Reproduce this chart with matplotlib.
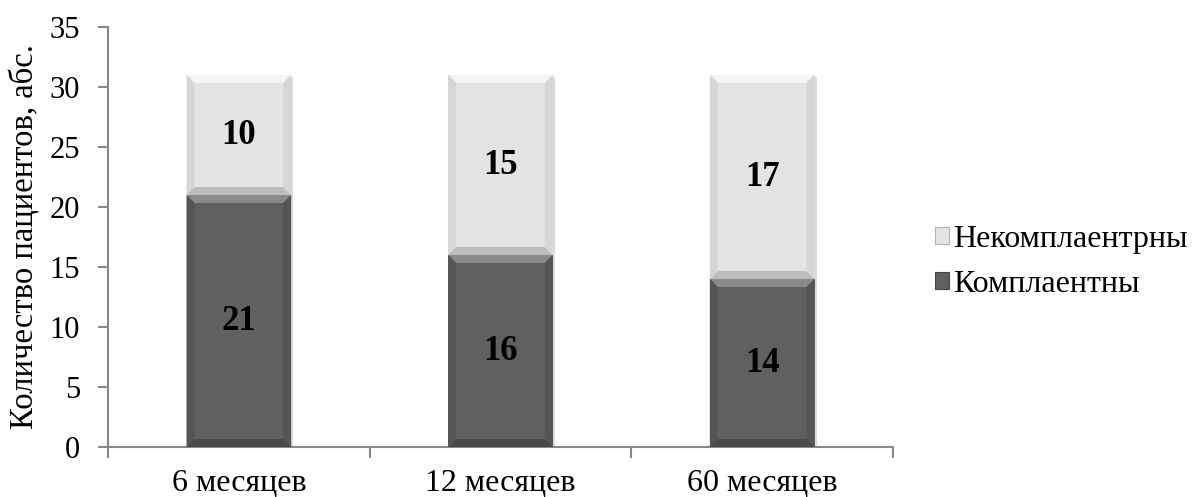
import matplotlib
matplotlib.use("Agg")
import matplotlib.pyplot as plt
from matplotlib.patches import Polygon, Rectangle

categories = ["6 месяцев", "12 месяцев", "60 месяцев"]
compliant = [21, 16, 14]
noncompliant = [10, 15, 17]
series_names = ["Комплаентны", "Некомплаентрны"]
yticks = [0, 5, 10, 15, 20, 25, 30, 35]

plt.rcParams['font.family'] = ['Liberation Serif', 'DejaVu Serif']

fig = plt.figure(figsize=(11.97, 4.97), dpi=100)
ax = fig.add_axes([108/1197, 1-447/497, (893-108)/1197, (447-27)/497])

x = list(range(len(categories)))
width = 0.40
dark = "#606060"
light = "#e4e4e4"

b1 = ax.bar(x, compliant, width, color=dark, zorder=3, edgecolor='none')
b2 = ax.bar(x, noncompliant, width, bottom=compliant, color=light, zorder=3, edgecolor='none')

ax.set_xlim(-0.5, 2.5)
ax.set_ylim(0, 35)

def px_x(p):
    return p * 3.0 / (893 - 108)
def px_y(p):
    return p * 35.0 / (447 - 27)

def bevel(rect, top_c, left_c, right_c, bot_c, bw=8, bh=8):
    x0, y0 = rect.get_x(), rect.get_y()
    w, h = rect.get_width(), rect.get_height()
    dx, dy = px_x(bw), px_y(bh)
    x1, y1 = x0 + w, y0 + h
    ax.add_patch(Rectangle((x0 + px_x(2), y0 - px_y(2)), w, h, color="#b8b8b8", alpha=0.5, zorder=2, lw=0))
    polys = [
        ([(x0, y1), (x1, y1), (x1 - dx, y1 - dy), (x0 + dx, y1 - dy)], top_c),
        ([(x0, y0), (x1, y0), (x1 - dx, y0 + dy), (x0 + dx, y0 + dy)], bot_c),
        ([(x0, y0), (x0, y1), (x0 + dx, y1 - dy), (x0 + dx, y0 + dy)], left_c),
        ([(x1, y0), (x1, y1), (x1 - dx, y1 - dy), (x1 - dx, y0 + dy)], right_c),
    ]
    for pts, c in polys:
        ax.add_patch(Polygon(pts, closed=True, color=c, lw=0, zorder=4))

for r in b1:
    bevel(r, "#8a8a8a", "#555555", "#555555", "#4a4a4a")
for r in b2:
    bevel(r, "#f4f4f4", "#d6d6d6", "#d6d6d6", "#bdbdbd")

for i in x:
    ax.text(i, compliant[i] / 2, str(compliant[i]), ha='center', va='center',
            fontsize=25, fontweight='bold', color='black', zorder=6)
    ax.text(i, compliant[i] + noncompliant[i] / 2, str(noncompliant[i]), ha='center', va='center',
            fontsize=25, fontweight='bold', color='black', zorder=6)

for s in ['top', 'right']:
    ax.spines[s].set_visible(False)
for s in ['left', 'bottom']:
    ax.spines[s].set_color('#888888')
    ax.spines[s].set_linewidth(1.5)

ax.set_yticks(yticks)
ax.set_yticklabels([str(t) for t in yticks], fontsize=22)
ax.tick_params(axis='y', direction='out', length=7, width=1.5, color='#888888', pad=13)
ax.set_xticks([-0.5, 0.5, 1.5, 2.5])
ax.set_xticklabels([])
ax.set_xticks(x, minor=True)
ax.set_xticklabels(categories, minor=True, fontsize=23)
ax.tick_params(axis='x', which='major', direction='out', length=8, width=1.5, color='#888888')
ax.tick_params(axis='x', which='minor', length=0, pad=16)

ax.set_ylabel("Количество пациентов, абс.", fontsize=23.5, labelpad=7)

handles = [Rectangle((0, 0), 1, 1, facecolor=light, edgecolor='#b0b0b0', lw=0.8),
           Rectangle((0, 0), 1, 1, facecolor=dark, edgecolor='#444444', lw=0.8)]
fig.legend(handles, [series_names[1], series_names[0]], loc='center left',
           bbox_to_anchor=(935/1197, 1 - 262/497), frameon=False, fontsize=23,
           handlelength=0.45, handleheight=0.45, handletextpad=0.12, labelspacing=0.5,
           borderaxespad=0, borderpad=0)

fig.savefig("out.png", dpi=100)
